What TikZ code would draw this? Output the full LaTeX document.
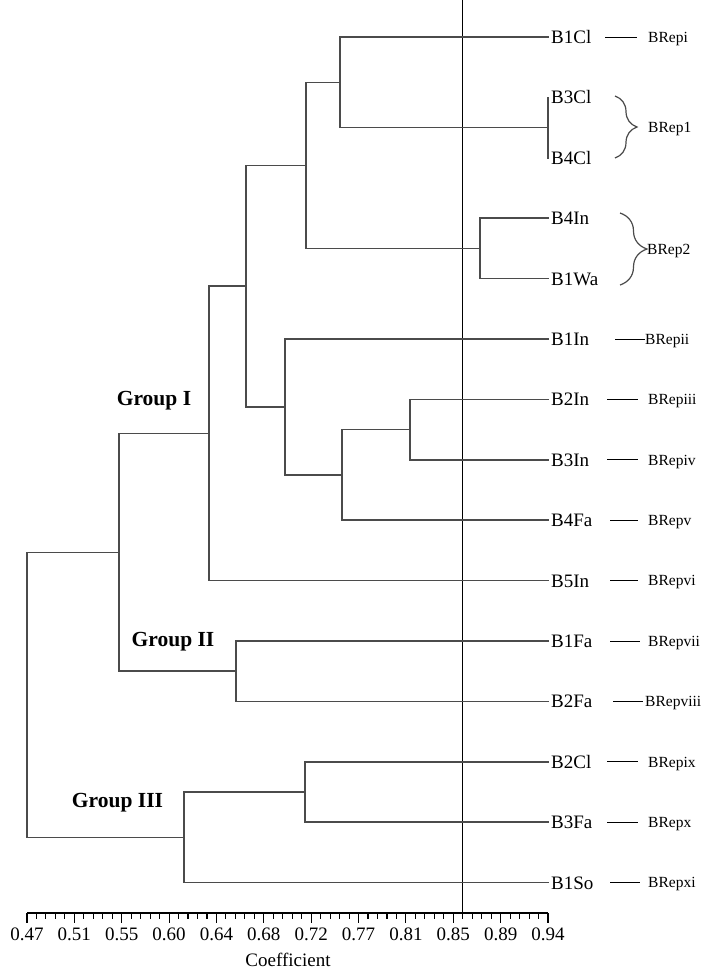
\documentclass[tikz,border=0pt]{standalone}
\usepackage{fontspec}
\setmainfont{Liberation Serif}
\usetikzlibrary{decorations.pathreplacing}
\definecolor{treegray}{RGB}{75,75,75}
\begin{document}
\begin{tikzpicture}[x=1pt,y=-1pt,
  tree/.style={draw=treegray, line width=1.6pt, line cap=rect},
  leaf/.style={anchor=west, inner xsep=3pt, inner ysep=0pt, font=\fontsize{19}{19}\selectfont, text height=13pt, text depth=0pt},
  rep/.style={anchor=west, inner sep=0pt, font=\fontsize{15.5}{15.5}\selectfont, text height=10.5pt, text depth=0pt},
  grp/.style={font=\bfseries\fontsize{21.5}{21.5}\selectfont, inner sep=0pt},
  ticklab/.style={anchor=base, inner sep=0pt, font=\fontsize{19}{19}\selectfont},
  dashline/.style={draw=black, line width=1pt},
  bracestyle/.style={draw=treegray, line width=1.2pt, decorate},
  axisline/.style={draw=black, line width=1.3pt}
]
\useasboundingbox (0,0) rectangle (707,970);

% leaves
\node[leaf] (B1Cl) at (548,37.0) {B1Cl};
\node[leaf] (B3Cl) at (548,97.4) {B3Cl};
\node[leaf] (B4Cl) at (548,157.8) {B4Cl};
\node[leaf] (B4In) at (548,218.2) {B4In};
\node[leaf] (B1Wa) at (548,278.6) {B1Wa};
\node[leaf] (B1In) at (548,339.0) {B1In};
\node[leaf] (B2In) at (548,399.4) {B2In};
\node[leaf] (B3In) at (548,459.8) {B3In};
\node[leaf] (B4Fa) at (548,520.2) {B4Fa};
\node[leaf] (B5In) at (548,580.6) {B5In};
\node[leaf] (B1Fa) at (548,641.0) {B1Fa};
\node[leaf] (B2Fa) at (548,701.4) {B2Fa};
\node[leaf] (B2Cl) at (548,761.8) {B2Cl};
\node[leaf] (B3Fa) at (548,822.2) {B3Fa};
\node[leaf] (B1So) at (548,882.6) {B1So};

% internal nodes
\coordinate (a) at (548,127.6);
\coordinate (b) at (340,82.3);
\coordinate (c) at (480,248.4);
\coordinate (d) at (306,165.35);
\coordinate (e) at (410,429.6);
\coordinate (f) at (342,474.9);
\coordinate (g) at (285,406.95);
\coordinate (h) at (246,286.15);
\coordinate (i) at (209,433.4);
\coordinate (j) at (236,671.2);
\coordinate (k) at (119,552.3);
\coordinate (l) at (305,792.0);
\coordinate (m) at (184,837.3);
\coordinate (r) at (27,694.8);

% reference line
\coordinate (vtop) at (462,0);
\coordinate (vbot) at (462,913);
\draw[draw=black, line width=1pt] (vtop) -- (vbot);

% tree
\draw[tree] (a) |- (B3Cl.west);
\draw[tree] (a) |- (B4Cl.west);
\draw[tree] (b) |- (B1Cl.west);
\draw[tree] (b) |- (a);
\draw[tree] (c) |- (B4In.west);
\draw[tree] (c) |- (B1Wa.west);
\draw[tree] (d) |- (b);
\draw[tree] (d) |- (c);
\draw[tree] (e) |- (B2In.west);
\draw[tree] (e) |- (B3In.west);
\draw[tree] (f) |- (e);
\draw[tree] (f) |- (B4Fa.west);
\draw[tree] (g) |- (B1In.west);
\draw[tree] (g) |- (f);
\draw[tree] (h) |- (d);
\draw[tree] (h) |- (g);
\draw[tree] (i) |- (h);
\draw[tree] (i) |- (B5In.west);
\draw[tree] (j) |- (B1Fa.west);
\draw[tree] (j) |- (B2Fa.west);
\draw[tree] (k) |- (i);
\draw[tree] (k) |- (j);
\draw[tree] (l) |- (B2Cl.west);
\draw[tree] (l) |- (B3Fa.west);
\draw[tree] (m) |- (l);
\draw[tree] (m) |- (B1So.west);
\draw[tree] (r) |- (k);
\draw[tree] (r) |- (m);

% group labels
\node[grp] (g1) at (154,401) {Group I};
\node[grp] (g2) at (173,642) {Group II};
\node[grp] (g3) at (117.5,803) {Group III};

% BRep labels
\node[rep] (Ri) at (648,37.0) {BRepi};
\node[rep] (R1) at (648,127.6) {BRep1};
\node[rep] (R2) at (647,249) {BRep2};
\node[rep] (Rii) at (645,339.0) {BRepii};
\node[rep] (Riii) at (648,399.4) {BRepiii};
\node[rep] (Riv) at (648,459.8) {BRepiv};
\node[rep] (Rv) at (648,520.2) {BRepv};
\node[rep] (Rvi) at (648,580.6) {BRepvi};
\node[rep] (Rvii) at (648,641.0) {BRepvii};
\node[rep] (Rviii) at (645,701.4) {BRepviii};
\node[rep] (Rix) at (648,761.8) {BRepix};
\node[rep] (Rx) at (648,822.2) {BRepx};
\node[rep] (Rxi) at (648,882.6) {BRepxi};

% dashes
\draw[dashline] (605,37.0) -- (637,37.0);
\draw[dashline] (615,339.0) -- (645,339.0);
\draw[dashline] (607,399.4) -- (638,399.4);
\draw[dashline] (607,459.8) -- (638,459.8);
\draw[dashline] (610,520.2) -- (638,520.2);
\draw[dashline] (610,580.6) -- (638,580.6);
\draw[dashline] (610,641.0) -- (640,641.0);
\draw[dashline] (613,701.4) -- (643,701.4);
\draw[dashline] (607,761.8) -- (638,761.8);
\draw[dashline] (607,822.2) -- (638,822.2);
\draw[dashline] (610,882.6) -- (640,882.6);

% braces
\draw[bracestyle, decoration={brace, amplitude=22pt, aspect=0.5}] (615,96) -- (615,158);
\draw[bracestyle, decoration={brace, amplitude=27pt, aspect=0.5}] (620,213) -- (620,285);

% axis
\draw[axisline] (27,913) -- (548,913);
\foreach \t in {0,...,55} {
  \draw[draw=black, line width=1.1pt] ({27+\t*9.47273},913) -- ({27+\t*9.47273},919);
}
\foreach \v [count=\n from 0] in {0.47,0.51,0.55,0.60,0.64,0.68,0.72,0.77,0.81,0.85,0.89,0.94} {
  \draw[draw=black, line width=1.1pt] ({27+\n*47.3636},913) -- ({27+\n*47.3636},923);
  \node[ticklab] at ({27+\n*47.3636},940) {\v};
}
\node[anchor=base, inner sep=0pt, font=\fontsize{19}{19}\selectfont] (coef) at (288,966) {Coefficient};
\end{tikzpicture}
\end{document}
